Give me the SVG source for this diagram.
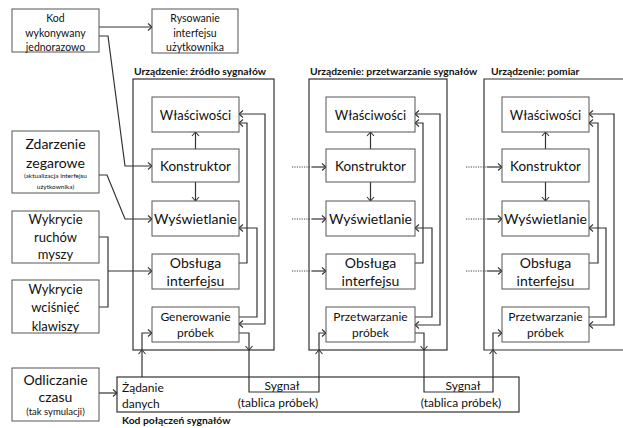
<svg xmlns="http://www.w3.org/2000/svg" width="623" height="428" viewBox="0 0 623 428">
<style>
text{font-family:Lato,"Open Sans","DejaVu Sans",sans-serif;fill:#111;text-anchor:middle}
.box{fill:#fff;stroke:#555;stroke-width:1}
.dev{fill:none;stroke:#333;stroke-width:1.2}
.c{fill:none;stroke:#333;stroke-width:1.2}
.d{fill:none;stroke:#444;stroke-width:1.1;stroke-dasharray:1.2 1.2}
.ae{marker-end:url(#a)}
.ab{marker-end:url(#a);marker-start:url(#a)}
.t{font-weight:bold;font-size:10.3px;text-anchor:start}
.s10{font-size:10.5px}.s12{font-size:12px}.s13{font-size:13px}.s135{font-size:13.5px}.s14{font-size:14px}.s6{font-size:6.5px}.s9{font-size:9.5px}
</style>
<defs>
<marker id="a" viewBox="-5 -5 6 10" refX="0" refY="0" markerWidth="6" markerHeight="10" markerUnits="userSpaceOnUse" orient="auto-start-reverse">
<path d="M-4,-3.5 L0,0 L-4,3.5" fill="none" stroke="#333" stroke-width="1.1"/>
</marker>
</defs>
<rect width="623" height="428" fill="#fff"/>

<g id="devices">
<rect class="dev" x="133" y="79" width="141" height="271"/>
<rect class="dev" x="309" y="79" width="138" height="271"/>
<path class="dev" d="M630,79 H484 V350 H630"/>
<text class="t" x="134" y="75">Urządzenie: źródło sygnałów</text>
<text class="t" x="310" y="75">Urządzenie: przetwarzanie sygnałów</text>
<text class="t" x="491" y="75">Urządzenie: pomiar</text>
</g>

<g id="connectors">
<path class="c ae" d="M99,27 H152"/>
<path class="c ae" d="M99,36 H108 L125,166 H152"/>
<path class="c ae" d="M99,175 H107 L125,219 H152"/>
<path class="c" d="M99,237 H108 V307 H99"/>
<path class="c ae" d="M108,271 H152"/>
<path class="c ae" d="M99,393 H117"/>
<!-- device 1 -->
<path class="c ae" d="M195.5,149 V132"/>
<path class="c ae" d="M195.5,182 V201"/>
<path class="c ae" d="M239,263 H247 V123 H239"/>
<path class="c ae" d="M239,317 H257 V228 H239"/>
<path class="c ab" d="M239,324 H265 V114 H239"/>
<path class="c ae" d="M142,377 V350"/>
<path class="c ae" d="M142,350 V333 H152"/>
<path class="c ae" d="M239,333 H249 V350"/>
<path class="c ae" d="M249,350 V392 H319 V350"/>
<path class="c ae" d="M319,350 V333 H326"/>
<!-- device 2 -->
<path class="d" d="M292,167 H312 M292,219 H312 M292,271 H312"/>
<path class="c ae" d="M312,167 H326"/>
<path class="c ae" d="M312,219 H326"/>
<path class="c ae" d="M312,271 H326"/>
<path class="c ae" d="M370.5,149 V132"/>
<path class="c ae" d="M370.5,182 V201"/>
<path class="c ae" d="M415,263 H423 V123 H415"/>
<path class="c ae" d="M415,317 H432 V228 H415"/>
<path class="c ab" d="M415,325 H440 V114 H415"/>
<path class="c ae" d="M415,333 H424 V350"/>
<path class="c ae" d="M424,350 V392 H493 V350"/>
<path class="c ae" d="M493,350 V333 H502"/>
<!-- device 3 -->
<path class="d" d="M466,167 H487 M466,219 H487 M466,271 H487"/>
<path class="c ae" d="M487,167 H502"/>
<path class="c ae" d="M487,219 H502"/>
<path class="c ae" d="M487,271 H502"/>
<path class="c ae" d="M545.5,149 V132"/>
<path class="c ae" d="M545.5,182 V201"/>
<path class="c ae" d="M589,263 H598 V123 H589"/>
<path class="c ae" d="M589,317 H606 V228 H589"/>
<path class="c ab" d="M589,325 H614 V114 H589"/>
</g>

<g id="kod-jednorazowo"><rect class="box" x="12" y="9" width="87" height="43"/>
<text class="s10" x="55.5" y="22">Kod</text><text class="s10" x="55.5" y="36.5">wykonywany</text><text class="s10" x="55.5" y="50.5">jednorazowo</text></g>
<g id="rysowanie"><rect class="box" x="152" y="9" width="86" height="44"/>
<text class="s10" x="195" y="22">Rysowanie</text><text class="s10" x="195" y="36.5">interfejsu</text><text class="s10" x="195" y="50.5">użytkownika</text></g>
<g id="zdarzenie"><rect class="box" x="12" y="131" width="87" height="62"/>
<text class="s14" x="55.5" y="149">Zdarzenie</text><text class="s14" x="55.5" y="168">zegarowe</text>
<text class="s6" x="55.5" y="177.5">(aktualizacja interfejsu</text><text class="s6" x="55.5" y="189">użytkownika)</text></g>
<g id="myszy"><rect class="box" x="12" y="211" width="87" height="52"/>
<text class="s13" x="55.5" y="223.5">Wykrycie</text><text class="s13" x="55.5" y="241.5">ruchów</text><text class="s13" x="55.5" y="258.5">myszy</text></g>
<g id="klawisze"><rect class="box" x="12" y="280" width="87" height="53"/>
<text class="s13" x="55.5" y="293.5">Wykrycie</text><text class="s13" x="55.5" y="311.5">wciśnięć</text><text class="s13" x="55.5" y="330.5">klawiszy</text></g>
<g id="odliczanie"><rect class="box" x="12" y="368" width="87" height="53"/>
<text class="s14" x="55.5" y="385">Odliczanie</text><text class="s14" x="55.5" y="402">czasu</text><text class="s9" x="55.5" y="415">(tak symulacji)</text></g>

<g id="d1-wlasciwosci"><rect class="box" x="152" y="97" width="87" height="35"/><text class="s13" x="195.5" y="119.5">Właściwości</text></g>
<g id="d1-konstruktor"><rect class="box" x="152" y="149" width="87" height="33"/><text class="s135" x="195.5" y="170.5">Konstruktor</text></g>
<g id="d1-wyswietlanie"><rect class="box" x="152" y="201" width="87" height="35"/><text class="s14" x="195.5" y="224">Wyświetlanie</text></g>
<g id="d1-obsluga"><rect class="box" x="152" y="254" width="87" height="35"/><text class="s14" x="195.5" y="268">Obsługa</text><text class="s14" x="195.5" y="286">interfejsu</text></g>
<g id="d1-generowanie"><rect class="box" x="152" y="307" width="87" height="35"/><text class="s12" x="195.5" y="321">Generowanie</text><text class="s12" x="195.5" y="337">próbek</text></g>

<g id="d2-wlasciwosci"><rect class="box" x="326" y="97" width="89" height="35"/><text class="s13" x="370.5" y="119.5">Właściwości</text></g>
<g id="d2-konstruktor"><rect class="box" x="326" y="149" width="89" height="33"/><text class="s135" x="370.5" y="170.5">Konstruktor</text></g>
<g id="d2-wyswietlanie"><rect class="box" x="326" y="201" width="89" height="35"/><text class="s14" x="370.5" y="224">Wyświetlanie</text></g>
<g id="d2-obsluga"><rect class="box" x="326" y="254" width="89" height="35"/><text class="s14" x="370.5" y="268">Obsługa</text><text class="s14" x="370.5" y="286">interfejsu</text></g>
<g id="d2-przetwarzanie"><rect class="box" x="326" y="307" width="89" height="35"/><text class="s12" x="370.5" y="321">Przetwarzanie</text><text class="s12" x="370.5" y="337">próbek</text></g>

<g id="d3-wlasciwosci"><rect class="box" x="502" y="97" width="87" height="35"/><text class="s13" x="545.5" y="119.5">Właściwości</text></g>
<g id="d3-konstruktor"><rect class="box" x="502" y="149" width="87" height="33"/><text class="s135" x="545.5" y="170.5">Konstruktor</text></g>
<g id="d3-wyswietlanie"><rect class="box" x="502" y="201" width="87" height="35"/><text class="s14" x="545.5" y="224">Wyświetlanie</text></g>
<g id="d3-obsluga"><rect class="box" x="502" y="254" width="87" height="35"/><text class="s14" x="545.5" y="268">Obsługa</text><text class="s14" x="545.5" y="286">interfejsu</text></g>
<g id="d3-przetwarzanie"><rect class="box" x="502" y="307" width="87" height="35"/><text class="s12" x="545.5" y="321">Przetwarzanie</text><text class="s12" x="545.5" y="337">próbek</text></g>

<g id="kod-polaczen">
<rect class="dev" x="117" y="377" width="402" height="35"/>
<text class="s12" x="122" y="392" style="text-anchor:start">Żądanie</text>
<text class="s12" x="122" y="408" style="text-anchor:start">danych</text>
<text class="s12" x="282" y="390">Sygnał</text>
<text class="s12" x="278" y="407">(tablica próbek)</text>
<text class="s12" x="463" y="390">Sygnał</text>
<text class="s12" x="461" y="407">(tablica próbek)</text>
<text class="t" x="122" y="424">Kod połączeń sygnałów</text>
</g>
</svg>
